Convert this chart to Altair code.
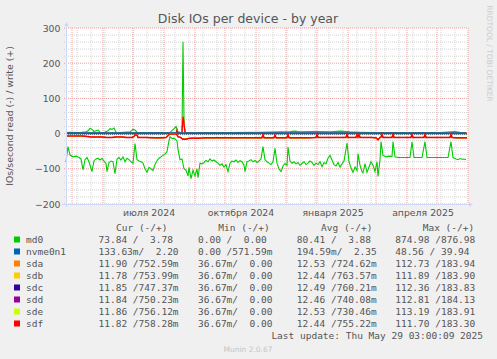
import altair as alt
import pandas as pd

# ---------------- data ----------------
START = pd.Timestamp("2024-04-25")
N_DAYS = 402

# md0 read (IOs/s, drawn negative)
md0_read_day = [0, 2, 4, 7, 10, 13, 15, 17, 19, 21, 23, 26, 28, 30, 32, 34, 36, 38, 40, 41, 43, 45, 47, 49,
                51, 53, 55, 57, 59, 61, 63, 65, 67, 69, 71, 73, 75, 77, 79, 81, 83, 85, 87, 89, 91, 93, 95,
                97, 99, 101, 103, 104, 106, 108, 110, 111, 112, 114, 116, 118, 120, 122, 123, 125, 127, 129,
                131, 132, 134, 136, 138, 140, 142, 144, 146, 148, 150, 152, 154, 156, 158, 160, 162, 164, 166,
                168, 170, 172, 174, 176, 178, 179, 181, 183, 185, 187, 189, 191, 193, 195, 197, 199, 201, 203,
                205, 207, 209, 211, 213, 215, 217, 219, 221, 222, 224, 226, 228, 230, 232, 234, 236, 238, 240,
                242, 244, 246, 248, 250, 252, 254, 256, 258, 260, 262, 264, 266, 268, 270, 272, 274, 276, 278,
                281, 283, 285, 287, 289, 291, 292, 294, 296, 297, 299, 301, 303, 305, 307, 309, 311, 312, 314,
                315, 317, 320, 323, 326, 327, 329, 332, 336, 340, 344, 346, 348, 352, 356, 359, 361, 366, 372,
                378, 382, 385, 387, 390, 392, 394, 396, 398, 400]
md0_read = [80, 37, 61, 66, 64, 68, 72, 103, 74, 68, 80, 108, 77, 72, 70, 75, 70, 78, 85, 108, 82, 78, 80, 114,
            72, 68, 75, 66, 80, 70, 74, 80, 84, 28, 74, 78, 80, 84, 100, 110, 96, 100, 105, 88, 77, 70, 66,
            62, 58, 51, 20, 9, 14, 13, 18, 21, 45, 74, 72, 100, 104, 120, 96, 128, 104, 120,
            100, 125, 84, 86, 82, 76, 80, 72, 78, 75, 80, 84, 90, 86, 95, 88, 108, 84, 78,
            80, 75, 82, 77, 80, 90, 108, 80, 78, 74, 80, 76, 82, 78, 72, 37, 74, 80, 84,
            88, 80, 42, 84, 100, 108, 92, 85, 90, 38, 78, 84, 80, 86, 82, 90, 85, 80, 88,
            84, 78, 82, 90, 84, 88, 80, 94, 82, 86, 70, 62, 75, 88, 92, 82, 95, 86, 78,
            27, 80, 98, 110, 95, 105, 57, 90, 108, 112, 85, 110, 95, 80, 90, 108, 80, 122, 75,
            23, 62, 66, 64, 65, 23, 66, 68, 68, 68, 68, 23, 68, 68, 68, 23, 68, 68, 68,
            68, 68, 23, 68, 72, 74, 71, 73, 72, 74]

# md0 write (IOs/s, drawn positive)
md0_write_day = [0, 4, 14, 20, 22, 24, 26, 28, 32, 34, 38, 42, 44, 46, 48, 50, 54, 64, 67, 69, 71, 84, 94,
                 104, 110, 112, 115, 116, 117, 118, 119, 124, 134, 160, 194, 224, 229, 234, 244, 254, 264,
                 274, 284, 294, 314, 334, 374, 389, 394, 400]
md0_write = [3, 4, 3, 5, 8, 15, 12, 6, 10, 4, 3, 8, 14, 12, 16, 4, 3, 5, 12, 10, 4, 3, 3,
             3, 20, 5, 3, 4, 261, 40, 4, 3, 3, 3, 4, 6, 7, 5, 6, 6, 5,
             7, 5, 4, 3, 3, 3, 6, 4, 3]

# nvme0n1
nvme_day = [0, 100, 200, 300, 400]
nvme_read = [0.15, 0.15, 0.15, 0.15, 0.15]
nvme_write = [2.3, 2.3, 2.3, 2.3, 2.3]

# sda .. sdf (practically identical, sdf drawn on top)
sd_read_day = [0, 8, 16, 24, 26, 36, 40, 46, 50, 56, 60, 66, 68, 69, 71, 72, 80, 90, 96, 100, 103, 104, 110,
               111, 112, 114, 116, 117, 120, 122, 126, 132, 140, 150, 160, 170, 180, 190, 196, 197, 198,
               208, 209, 210, 221, 222, 223, 234, 240, 250, 251, 252, 260, 270, 280, 281, 282, 290, 291,
               292, 293, 294, 300, 306, 310, 312, 314, 315, 316, 317, 326, 327, 328, 336, 345, 346, 347,
               358, 359, 360, 370, 384, 385, 386, 392, 401]
sd_read = [7, 7, 7, 9, 10, 10, 11, 11, 10, 10, 11, 11, 8, 4, 4, 11, 11, 12, 12, 11, 3, 1, 1,
           3, 9, 10, 14, 16, 16, 14, 13, 13, 12, 12, 12, 12, 12, 12, 12, 3, 12,
           12, 4, 12, 12, 3, 12, 12, 12, 11, 2, 11, 11, 11, 11, 2, 11, 11, 2,
           10, 3, 11, 11, 11, 12, 18, 11, 10, 2, 11, 11, 2, 11, 11, 11, 2, 11,
           11, 2, 11, 11, 11, 2, 11, 12, 12]
sd_write_day = [0, 100, 110, 111, 112, 116, 117, 118, 119, 200, 300, 401]
sd_write = [0.75, 0.75, 0.75, 10, 0.75, 1, 48, 30, 1, 0.75, 0.75, 0.75]

series_names = ["md0", "nvme0n1", "sda", "sdb", "sdc", "sdd", "sde", "sdf"]
series_colors = ["#00CC00", "#0066B3", "#FF8000", "#FFCC00", "#330099", "#990099", "#CCFF00", "#FF0000"]

cur_read = ["73.84", "133.63m", "11.90", "11.78", "11.85", "11.84", "11.86", "11.82"]
cur_write = ["3.78", "2.20", "752.59m", "753.99m", "747.37m", "750.23m", "756.12m", "758.28m"]
min_read = ["0.00", "0.00", "36.67m", "36.67m", "36.67m", "36.67m", "36.67m", "36.67m"]
min_write = ["0.00", "571.59m", "0.00", "0.00", "0.00", "0.00", "0.00", "0.00"]
avg_read = ["80.41", "194.59m", "12.53", "12.44", "12.49", "12.46", "12.53", "12.44"]
avg_write = ["3.88", "2.35", "724.62m", "763.57m", "760.21m", "740.08m", "730.46m", "755.22m"]
max_read = ["874.98", "48.56", "112.73", "111.89", "112.36", "112.81", "113.19", "111.70"]
max_write = ["876.98", "39.94", "183.94", "183.90", "183.83", "184.13", "183.91", "183.30"]

x_label_dates = ["2024-07-17", "2024-10-17", "2025-01-17", "2025-04-17"]
x_label_text = ["июля 2024", "октября 2024", "января 2025", "апреля 2025"]
y_ticks = [-200, -100, 0, 100, 200, 300]
y_minor = list(range(-200, 301, 20))

# ---------------- layout ----------------
W, H = 402, 176
PAD_L, PAD_T = 66, 28
FONT = "DejaVu Sans"
MONO = "DejaVu Sans Mono"
TXT = "#555555"
NB = "\u00a0"

# ---------------- tables ----------------
rows = []
def add(name, d, days, vals, sign):
    for a, b in zip(days, vals):
        rows.append({"series": name, "dir": d, "day": a, "v": sign * b})

add("md0", "read", md0_read_day, md0_read, -1)
add("md0", "write", md0_write_day, md0_write, 1)
add("nvme0n1", "read", nvme_day, nvme_read, -1)
add("nvme0n1", "write", nvme_day, nvme_write, 1)
for n in series_names[2:]:
    add(n, "read", sd_read_day, sd_read, -1)
    add(n, "write", sd_write_day, sd_write, 1)
lines = pd.DataFrame(rows)
color_of = dict(zip(series_names, series_colors))

month_starts = pd.date_range("2024-05-01", "2025-06-01", freq="MS")
major_x = pd.DataFrame({"day": [(d - START).days for d in month_starts]})
minor_dates = pd.date_range("2024-05-06", "2025-06-01", freq="14D")
minor_x = pd.DataFrame({"day": [(d - START).days for d in minor_dates]})
minor_y = pd.DataFrame({"v": [v for v in y_minor if v % 100 != 0]})
major_y = pd.DataFrame({"v": y_ticks})
zero_y = pd.DataFrame({"v": [0]})
xlab = pd.DataFrame({"day": [(pd.Timestamp(d) - START).days for d in x_label_dates], "t": x_label_text})

xs = alt.Scale(domain=[0, N_DAYS], nice=False, zero=False)
ys = alt.Scale(domain=[-200, 300], nice=False, zero=False)
Y_AXIS = alt.Axis(values=y_ticks, grid=False, ticks=False, domain=False, labelFont=FONT,
                  labelFontSize=9.33, labelColor=TXT, labelPadding=6, labelFlush=False,
                  labelOverlap=False, title=None)

def X(f="day:Q"):
    return alt.X(f, scale=xs, axis=None)

def Y(f="v:Q"):
    return alt.Y(f, scale=ys, axis=Y_AXIS)

grid_minor_v = alt.Chart(minor_x).mark_rule(color="#D4D4D4", strokeDash=[1, 1], strokeWidth=1).encode(
    x=X(), y=alt.value(0), y2=alt.value(H + 2))
grid_minor_h = alt.Chart(minor_y).mark_rule(color="#D4D4D4", strokeDash=[1, 1], strokeWidth=1).encode(
    y=Y(), x=alt.value(-2), x2=alt.value(W))
grid_major_v = alt.Chart(major_x).mark_rule(color="#EDA0A0", strokeDash=[1, 1], strokeWidth=1).encode(
    x=X(), y=alt.value(0), y2=alt.value(H + 2))
grid_major_h = alt.Chart(major_y).mark_rule(color="#EDA0A0", strokeDash=[1, 1], strokeWidth=1).encode(
    y=Y(), x=alt.value(-2), x2=alt.value(W))


def line(name, direction, width=1.0):
    sub = lines[(lines.series == name) & (lines.dir == direction)]
    return alt.Chart(sub).mark_line(color=color_of[name], strokeWidth=width).encode(
        x=X(), y=Y(), order="day:Q")

line_layers = [line("md0", "read", 1.1), line("md0", "write", 1.1)]
# the writes of sda..sdf lie under the nvme0n1 line near zero
for n in ["sdc", "sdd", "sda", "sdb", "sde", "sdf"]:
    line_layers.append(line(n, "write", 1.3 if n == "sdf" else 1.0))
zero_line = alt.Chart(zero_y).mark_rule(color="#777777", strokeDash=[1, 1], strokeWidth=1, yOffset=1).encode(
    y=Y(), x=alt.value(0), x2=alt.value(W))
line_layers.append(zero_line)
line_layers += [line("nvme0n1", "read", 1.2), line("nvme0n1", "write", 1.2)]
for n in ["sdc", "sdd", "sda", "sdb", "sde", "sdf"]:
    line_layers.append(line(n, "read", 1.5 if n == "sdf" else 1.0))

xlabels = alt.Chart(xlab).mark_text(font=FONT, fontSize=9.33, color=TXT, baseline="alphabetic",
                                    align="center").encode(x=X(), y=alt.value(188), text="t:N")

plot = alt.layer(grid_minor_v, grid_minor_h, grid_major_v, grid_major_h, *line_layers, xlabels)

# ---------------- overlay: axes arrows, titles, legend ----------------
one = pd.DataFrame({"a": [0]})
AX = "#CFD6F8"
axis_v = alt.Chart(one).mark_rule(color=AX, strokeWidth=1).encode(
    x=alt.value(0.5), y=alt.value(-3), y2=alt.value(H + 3))
axis_h = alt.Chart(one).mark_rule(color=AX, strokeWidth=1).encode(
    y=alt.value(H + 0.5), x=alt.value(-4), x2=alt.value(W + 2))
arrow_up = alt.Chart(one).mark_point(shape="triangle-up", filled=True, color=AX, opacity=1, size=22).encode(
    x=alt.value(0.5), y=alt.value(-4))
arrow_r = alt.Chart(one).mark_point(shape="triangle-right", filled=True, color=AX, opacity=1, size=22).encode(
    x=alt.value(W + 3), y=alt.value(H + 0.5))

def txt(s, x, y, **kw):
    props = dict(font=FONT, fontSize=9.33, color=TXT, baseline="alphabetic", align="left")
    props.update(kw)
    return alt.Chart(one).mark_text(text=s, **props).encode(x=alt.value(x), y=alt.value(y))

title = txt("Disk IOs per device - by year", 182, -5.5, fontSize=12.5, align="center")
ytitle = txt("IOs/second read (-) / write (+)", -56, 88, angle=270, align="center", baseline="middle")
wm = txt("RRDTOOL / TOBI OETIKER", 423, 25.5, fontSize=7.5, color="#CCCCCC", angle=90,
         align="center", baseline="middle")
munin = txt("Munin 2.0.67", 182, 323.5, fontSize=7.5, color="#C4C4C4", align="center")
last = txt("Last update: Thu May 29 03:00:09 2025", 417, 310.5, font=MONO, fontSize=9.5, align="right")

headers = [("Cur (-/+)", 116), ("Min (-/+)", 218.3), ("Avg (-/+)", 321), ("Max (-/+)", 422.7)]
header_layers = [txt(h.replace(" ", NB), hx - PAD_L, 231 - PAD_T, font=MONO, fontSize=9.5) for h, hx in headers]

def part(s):
    s = s if s.endswith("m") else s + " "
    return s.rjust(7)

def cell(a, b):
    return (part(a) + "/" + part(b)).replace(" ", NB)

leg = pd.DataFrame({
    "i": list(range(len(series_names))),
    "name": series_names,
    "color": series_colors,
    "cur": [cell(a, b) for a, b in zip(cur_read, cur_write)],
    "mn": [cell(a, b) for a, b in zip(min_read, min_write)],
    "avg": [cell(a, b) for a, b in zip(avg_read, avg_write)],
    "mx": [cell(a, b) for a, b in zip(max_read, max_write)],
})
legbase = alt.Chart(leg).transform_calculate(yy="215 + 12 * datum.i", ys="211.5 + 12 * datum.i")
squares = legbase.mark_square(size=36, filled=True, opacity=1).encode(
    x=alt.value(17 - PAD_L), y=alt.Y("ys:Q", scale=None), color=alt.Color("color:N", scale=None))
leg_cols = [squares]
for field, cx in [("name", 26), ("cur", 98.5), ("mn", 198), ("avg", 296.7), ("mx", 395.2)]:
    leg_cols.append(legbase.mark_text(font=MONO, fontSize=9.5, color=TXT, align="left",
                                      baseline="alphabetic").encode(
        x=alt.value(cx - PAD_L), y=alt.Y("yy:Q", scale=None), text=f"{field}:N"))

overlay = alt.layer(axis_v, axis_h, arrow_up, arrow_r, title, ytitle, wm, munin, last,
                    *header_layers, *leg_cols)

chart = alt.layer(plot, overlay).resolve_scale(x="independent", y="independent").properties(
    width=W, height=H,
    padding={"left": PAD_L, "top": PAD_T, "right": 497 - PAD_L - W, "bottom": 359 - PAD_T - H},
    autosize=alt.AutoSizeParams(type="none"),
    background="#F0F0F0",
).configure_view(stroke=None, fill="white")

chart.save("out.html", embed_options={"renderer": "svg", "actions": False})
